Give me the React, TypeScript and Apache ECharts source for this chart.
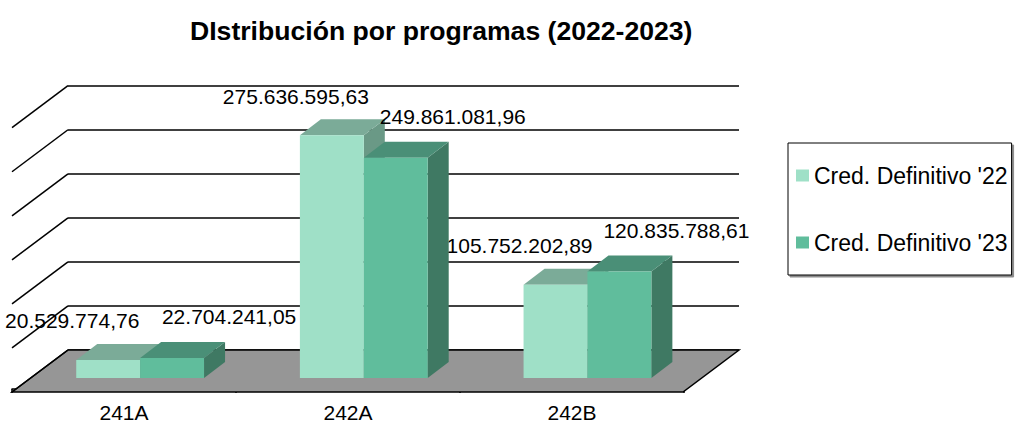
import React, { useEffect, useRef } from 'react';
import * as echarts from 'echarts';

// ---------- data ----------
const title = 'DIstribución por programas (2022-2023)';
const categories = ['241A', '242A', '242B'];
const seriesNames = ["Cred. Definitivo '22", "Cred. Definitivo '23"];
const values22 = [20529774.76, 275636595.63, 105752202.89];
const values23 = [22704241.05, 249861081.96, 120835788.61];
const yMin = 0;
const yMax = 300000000;
const yInterval = 50000000;

// ---------- styles / geometry ----------
const FONT = '"Liberation Sans", Arial, Helvetica, sans-serif';
const FLOOR_DEPTH = { dx: -56, dy: 42 }; // back wall -> front edge
const BAR_FRONT = { dx: -39.7, dy: 28 }; // back wall -> bar front plane
const BAR_DEPTH = { dx: 21, dy: -16 }; // bar front -> bar back
const BAR_WIDTH_RATIO = 64 / 224;
const LINE_W = 1.5;

const palettes = [
  { front: '#9fe0c7', top: '#7bab98', side: '#6a9986', label: { dx: -36, dy: -39 } },
  { front: '#60bd9c', top: '#4a8f77', side: '#3f7963', label: { dx: 57, dy: -41 } },
];

const fmt = (v: number) => {
  const [i, d] = v.toFixed(2).split('.');
  return i.replace(/\B(?=(\d{3})+(?!\d))/g, '.') + ',' + d;
};

const yTicks: number[] = [];
for (let t = yMin; t <= yMax; t += yInterval) yTicks.push(t);

function barSeries(s: number, values: number[]) {
  const pal = palettes[s];
  return {
    name: seriesNames[s],
    type: 'custom',
    coordinateSystem: 'cartesian2d',
    xAxisIndex: 0,
    yAxisIndex: 0,
    z: 3 + s,
    silent: true,
    itemStyle: { color: pal.front },
    data: values.map((v, i) => [i, v]),
    renderItem: (params: any, api: any) => {
      const idx = api.value(0);
      const val = api.value(1);
      const top = api.coord([idx, val]);
      const base = api.coord([idx, 0]);
      const catW = api.size([1, 0])[0];
      const bw = catW * BAR_WIDTH_RATIO;
      const xl = top[0] + BAR_FRONT.dx + (s === 0 ? -bw : 0);
      const xr = xl + bw;
      const yt = top[1] + BAR_FRONT.dy;
      const yb = base[1] + BAR_FRONT.dy;
      const D = BAR_DEPTH;
      return {
        type: 'group',
        children: [
          {
            type: 'polygon',
            shape: { points: [[xr, yt], [xr + D.dx, yt + D.dy], [xr + D.dx, yb + D.dy], [xr, yb]] },
            style: { fill: pal.side },
          },
          {
            type: 'polygon',
            shape: { points: [[xl, yt], [xr, yt], [xr + D.dx, yt + D.dy], [xl + D.dx, yt + D.dy]] },
            style: { fill: pal.top },
          },
          {
            type: 'rect',
            shape: { x: xl, y: yt, width: bw, height: yb - yt },
            style: { fill: pal.front },
          },
          {
            type: 'text',
            x: (xl + xr) / 2 + pal.label.dx,
            y: yt + pal.label.dy,
            style: {
              text: fmt(val),
              fill: '#000',
              font: `21px ${FONT}`,
              align: 'center',
              verticalAlign: 'middle',
            },
          },
        ],
      };
    },
  };
}

const frameSeries = {
  type: 'custom',
  coordinateSystem: 'cartesian2d',
  xAxisIndex: 0,
  yAxisIndex: 0,
  z: 1,
  silent: true,
  data: [[0, 0]],
  renderItem: (params: any, api: any) => {
    const cs = params.coordSys;
    const x0 = cs.x;
    const x1 = cs.x + cs.width;
    const yb = api.coord([0, yMin])[1];
    const F = FLOOR_DEPTH;
    const children: any[] = [
      {
        type: 'polygon',
        shape: { points: [[x0, yb], [x1, yb], [x1 + F.dx, yb + F.dy], [x0 + F.dx, yb + F.dy]] },
        style: { fill: '#969696', stroke: '#000', lineWidth: LINE_W },
      },
    ];
    yTicks.forEach((t) => {
      const y = api.coord([0, t])[1];
      children.push({
        type: 'line',
        shape: { x1: x0, y1: y, x2: x0 + F.dx, y2: y + F.dy },
        style: { stroke: '#000', lineWidth: LINE_W },
      });
    });
    return { type: 'group', children };
  },
};

export default function App() {
  const ref = useRef<HTMLDivElement>(null);
  useEffect(() => {
    if (!ref.current) return;
    const chart = echarts.init(ref.current, undefined, { renderer: 'svg' });
    chart.setOption({
      animation: false,
      backgroundColor: '#fff',
      textStyle: { fontFamily: FONT },
      title: {
        text: title,
        left: 190,
        top: 17,
        padding: 0,
        textStyle: { fontSize: 26.6, fontWeight: 'bold', color: '#000', fontFamily: FONT },
      },
      legend: {
        data: seriesNames,
        orient: 'vertical',
        left: 788,
        top: 143,
        padding: [21, 4, 21, 8],
        itemGap: 44,
        itemWidth: 13,
        itemHeight: 12,
        icon: 'rect',
        borderColor: '#000',
        borderWidth: 1,
        backgroundColor: '#fff',
        shadowColor: 'rgba(0,0,0,0.45)',
        shadowOffsetX: 2,
        shadowOffsetY: 2,
        shadowBlur: 0,
        selectedMode: false,
        textStyle: { fontSize: 23, color: '#000', fontFamily: FONT },
      },
      grid: [
        { left: 68, right: 280, top: 85.7, bottom: 73 },
        { left: 12, right: 335, top: 380, bottom: 31 },
      ],
      xAxis: [
        { type: 'category', gridIndex: 0, data: categories, show: false },
        {
          type: 'category',
          gridIndex: 1,
          data: categories,
          axisLine: { show: true, lineStyle: { color: '#000', width: LINE_W } },
          axisTick: { show: true, length: 4, lineStyle: { color: '#000', width: LINE_W } },
          axisLabel: { color: '#000', fontSize: 21, margin: 13, fontFamily: FONT },
          splitLine: { show: false },
        },
      ],
      yAxis: [
        {
          type: 'value',
          gridIndex: 0,
          min: yMin,
          max: yMax,
          interval: yInterval,
          axisLine: { show: false },
          axisTick: { show: false },
          axisLabel: { show: false },
          splitLine: { show: true, lineStyle: { color: '#000', width: LINE_W } },
        },
        { type: 'value', gridIndex: 1, show: false, splitLine: { show: false } },
      ],
      series: [frameSeries, barSeries(0, values22), barSeries(1, values23)],
    });
    return () => chart.dispose();
  }, []);
  return (
    <div
      ref={ref}
      style={{ position: 'fixed', left: 0, top: 0, width: 1019, height: 423 }}
    />
  );
}
